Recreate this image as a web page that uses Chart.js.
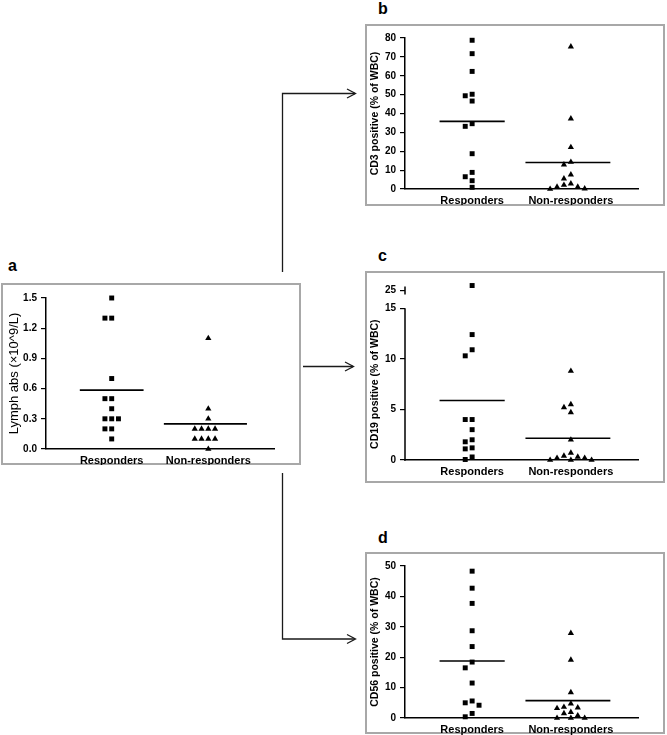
<!DOCTYPE html>
<html>
<head>
<meta charset="utf-8">
<script src="https://cdn.jsdelivr.net/npm/chart.js@4.4.0/dist/chart.umd.min.js"></script>
<style>
  body { margin: 0; background: #fff; }
  #page { position: relative; width: 667px; height: 735px; overflow: hidden; font-family: 'Liberation Sans', Arial, sans-serif; }
  .box { position: absolute; border: 2px solid #a8a8a8; box-sizing: border-box; }
  .panel { position: absolute; }
  .tag { position: absolute; font-weight: bold; font-size: 16px; line-height: 16px; color: #000; }
  svg { position: absolute; left: 0; top: 0; }
</style>
</head>
<body>
<div id="page">
  <svg width="667" height="735">
    <g stroke="#1a1a1a" stroke-width="1.3" fill="none">
      <polyline points="282.5,272 282.5,93.5 355,93.5"/>
      <polyline points="347,89 355.5,93.5 347,98"/>
      <line x1="303" y1="366.5" x2="353" y2="366.5"/>
      <polyline points="345,362 353.5,366.5 345,371"/>
      <polyline points="282.5,473 282.5,639 355,639"/>
      <polyline points="347,634.5 355.5,639 347,643.5"/>
    </g>
  </svg>

  <div class="tag" style="left:8px; top:258px">a</div>
  <div class="tag" style="left:378px; top:1px">b</div>
  <div class="tag" style="left:378px; top:248px">c</div>
  <div class="tag" style="left:378px; top:530px">d</div>

  <div class="box" style="left:1px; top:283px; width:300px; height:182px"></div>
  <div class="box" style="left:365px; top:24px; width:300px; height:182px"></div>
  <div class="box" style="left:365px; top:271px; width:300px; height:212px"></div>
  <div class="box" style="left:365px; top:552px; width:300px; height:182px"></div>

  <canvas id="panel_a" class="panel" width="300" height="182" style="left:1px; top:283px"></canvas>
  <canvas id="panel_b" class="panel" width="300" height="181" style="left:365px; top:24px"></canvas>
  <canvas id="panel_c" class="panel" width="300" height="212" style="left:365px; top:271px"></canvas>
  <canvas id="panel_d" class="panel" width="300" height="183" style="left:365px; top:552px"></canvas>
</div>

<script>
Chart.defaults.font.family = "'Liberation Sans', Arial, sans-serif";
Chart.defaults.color = '#000';

const groups = ['Responders', 'Non-responders'];

// a - absolute lymphocytes
const lymphResp = [1.5, 1.3, 1.3, 0.7, 0.5, 0.5, 0.4, 0.3, 0.3, 0.3, 0.2, 0.2, 0.1];
const lymphNon = [1.1, 0.4, 0.3, 0.2, 0.2, 0.2, 0.2, 0.1, 0.1, 0.1, 0.1, 0.0];
const lymphTicks = [0, 0.3, 0.6, 0.9, 1.2, 1.5];

// b - CD3
const cd3Resp = [78.8, 71.7, 62.3, 50.2, 49.4, 46.6, 34.6, 33.2, 18.7, 8.8, 6.5, 4.4, 0.9];
const cd3Non = [75.4, 37.3, 22.1, 14.3, 12.9, 7.6, 5.5, 2.8, 2.1, 1.1, 1.1, 0.2, 0];
const cd3Ticks = [0, 10, 20, 30, 40, 50, 60, 70, 80];

// c - CD19 (axis broken between 15 and 25)
const cd19Resp = [25.5, 12.4, 10.9, 10.3, 4.0, 4.0, 3.0, 2.0, 1.8, 1.2, 1.1, 0.3, 0.05];
const cd19Non = [8.8, 5.5, 5.2, 4.7, 2.0, 0.7, 0.4, 0.3, 0.2, 0.2, 0, 0, 0];
const cd19Ticks = [0, 5, 10, 15, 25];
const cd19Break = [15, 25];

// d - CD56
const cd56Resp = [48.3, 42.7, 37.7, 28.7, 23.5, 18.4, 16.5, 11.5, 5.6, 5.0, 4.2, 1.5, 0.4];
const cd56Non = [27.9, 19.1, 8.4, 4.7, 3.6, 3.4, 3.2, 1.9, 1.5, 0.8, 0, 0, 0];
const cd56Ticks = [0, 10, 20, 30, 40, 50];

const STEP = 0.07;            // width of one scatter column, in category units
const MEAN_R = [0.33, 0.33];  // mean bar reach left/right
const MEAN_N = [0.46, 0.40];
const CD19_GAP = 1.75;

function toCd19(v) {
    return v <= cd19Break[0] ? v : cd19Break[0] + CD19_GAP + (v - cd19Break[1]);
}

// simple beeswarm: put each point in the nearest free column
function columns(values, range) {
    const limit = range * 0.038;
    const order = values.map((v, i) => i).sort((p, q) => values[q] - values[p]);
    const cols = new Array(values.length).fill(0);
    const placed = [];
    const tries = [0, -1, 1, -2, 2, -3, 3, -4, 4, -5, 5];
    order.forEach(i => {
        for (const s of tries) {
            if (!placed.some(p => p.col === s && Math.abs(p.v - values[i]) < limit)) {
                cols[i] = s;
                placed.push({col: s, v: values[i]});
                break;
            }
        }
    });
    return cols;
}

function mean(list) {
    return list.reduce((s, v) => s + v, 0) / list.length;
}

function panel(id, cfg) {
    const map = cfg.map || (v => v);
    const pts = (vals, cat) => {
        const cols = columns(vals.map(map), cfg.yMax);
        return vals.map((v, i) => ({x: cat + cols[i] * STEP, y: map(v)}));
    };
    const bar = (vals, cat, reach) => {
        const m = map(mean(vals));
        return [{x: cat - reach[0], y: m}, {x: cat + reach[1], y: m}];
    };
    return new Chart(document.getElementById(id), {
        type: 'scatter',
        data: {
            datasets: [
                {
                    data: pts(cfg.resp, 1),
                    pointStyle: 'rect',
                    pointRadius: 3.5,
                    backgroundColor: '#000',
                    borderWidth: 0,
                    clip: false
                },
                {
                    data: pts(cfg.non, 2),
                    pointStyle: 'triangle',
                    pointRadius: 3.6,
                    backgroundColor: '#000',
                    borderWidth: 0,
                    clip: false
                },
                {
                    data: bar(cfg.resp, 1, MEAN_R),
                    showLine: true,
                    pointRadius: 0,
                    borderColor: '#000',
                    borderWidth: 1.6,
                    clip: false
                },
                {
                    data: bar(cfg.non, 2, MEAN_N),
                    showLine: true,
                    pointRadius: 0,
                    borderColor: '#000',
                    borderWidth: 1.6,
                    clip: false
                }
            ]
        },
        options: {
            responsive: false,
            animation: false,
            events: [],
            layout: {
                padding: {top: cfg.padTop, right: 27, left: 0, bottom: 0}
            },
            scales: {
                x: {
                    type: 'linear',
                    min: 0.32,
                    max: 2.68,
                    afterBuildTicks: s => { s.ticks = [{value: 1}, {value: 2}]; },
                    afterFit: s => { s.height = cfg.xHeight; },
                    ticks: {
                        callback: (v, i) => groups[i],
                        font: {size: 11, weight: 'bold'},
                        color: '#000',
                        padding: 5,
                        autoSkip: false,
                        maxRotation: 0
                    },
                    grid: {display: false, drawTicks: false, tickLength: 0},
                    border: {color: '#000', width: 1.5}
                },
                y: {
                    type: 'linear',
                    min: 0,
                    max: cfg.yMax,
                    afterBuildTicks: s => { s.ticks = cfg.ticks.map(v => ({value: map(v)})); },
                    afterFit: s => { s.width = cfg.yWidth; },
                    ticks: {
                        callback: (v, i) => cfg.fmt(cfg.ticks[i]),
                        font: {size: 10, weight: 'bold'},
                        color: '#000',
                        padding: 4,
                        autoSkip: false
                    },
                    grid: {
                        display: true,
                        drawOnChartArea: false,
                        drawTicks: true,
                        tickLength: 5,
                        color: '#000',
                        lineWidth: 1.2
                    },
                    border: {display: !cfg.broken, color: '#000', width: 1.5},
                    title: {
                        display: !!cfg.title,
                        text: cfg.title || '',
                        font: cfg.titleFont,
                        color: '#000',
                        padding: {top: cfg.titlePad, bottom: 0}
                    }
                }
            },
            plugins: {
                legend: {display: false},
                tooltip: {enabled: false}
            }
        },
        plugins: cfg.plugins || []
    });
}

const cd19Axis = {
    id: 'cd19Axis',
    afterDraw(chart) {
        const {ctx, chartArea, scales: {y}} = chart;
        const x = chartArea.left;
        const zero = y.getPixelForValue(0);
        const low = y.getPixelForValue(cd19Break[0]);
        const high = y.getPixelForValue(toCd19(cd19Break[1]));
        ctx.save();
        ctx.strokeStyle = '#000';
        ctx.lineWidth = 1.5;
        ctx.beginPath();
        ctx.moveTo(x, zero + 0.75);
        ctx.lineTo(x, low);
        ctx.moveTo(x, high - 4);
        ctx.lineTo(x, high + 4);
        ctx.stroke();
        ctx.translate(10, (zero + low) / 2);
        ctx.rotate(-Math.PI / 2);
        ctx.font = "bold 10.5px 'Liberation Sans', Arial, sans-serif";
        ctx.fillStyle = '#000';
        ctx.textAlign = 'center';
        ctx.textBaseline = 'middle';
        ctx.fillText('CD19 positive (% of WBC)', 0, 0);
        ctx.restore();
    }
};

const int = v => String(v);

window.lymphChart = panel('panel_a', {
    resp: lymphResp, non: lymphNon, ticks: lymphTicks, yMax: 1.5,
    fmt: v => v.toFixed(1),
    title: 'Lymph abs (×10^9/L)', titleFont: {size: 13, weight: 'normal'}, titlePad: 6,
    yWidth: 45, xHeight: 16, padTop: 15
});

window.cd3Chart = panel('panel_b', {
    resp: cd3Resp, non: cd3Non, ticks: cd3Ticks, yMax: 80, fmt: int,
    title: 'CD3 positive (% of WBC)', titleFont: {size: 10.5, weight: 'bold'}, titlePad: 3.7,
    yWidth: 40, xHeight: 16, padTop: 14
});

window.cd19Chart = panel('panel_c', {
    resp: cd19Resp, non: cd19Non, ticks: cd19Ticks, yMax: 17.5, fmt: int,
    map: toCd19, broken: true,
    yWidth: 40, xHeight: 23, padTop: 12,
    plugins: [cd19Axis]
});

window.cd56Chart = panel('panel_d', {
    resp: cd56Resp, non: cd56Non, ticks: cd56Ticks, yMax: 50, fmt: int,
    title: 'CD56 positive (% of WBC)', titleFont: {size: 10.5, weight: 'bold'}, titlePad: 3.7,
    yWidth: 40, xHeight: 17, padTop: 14
});
</script>
</body>
</html>
